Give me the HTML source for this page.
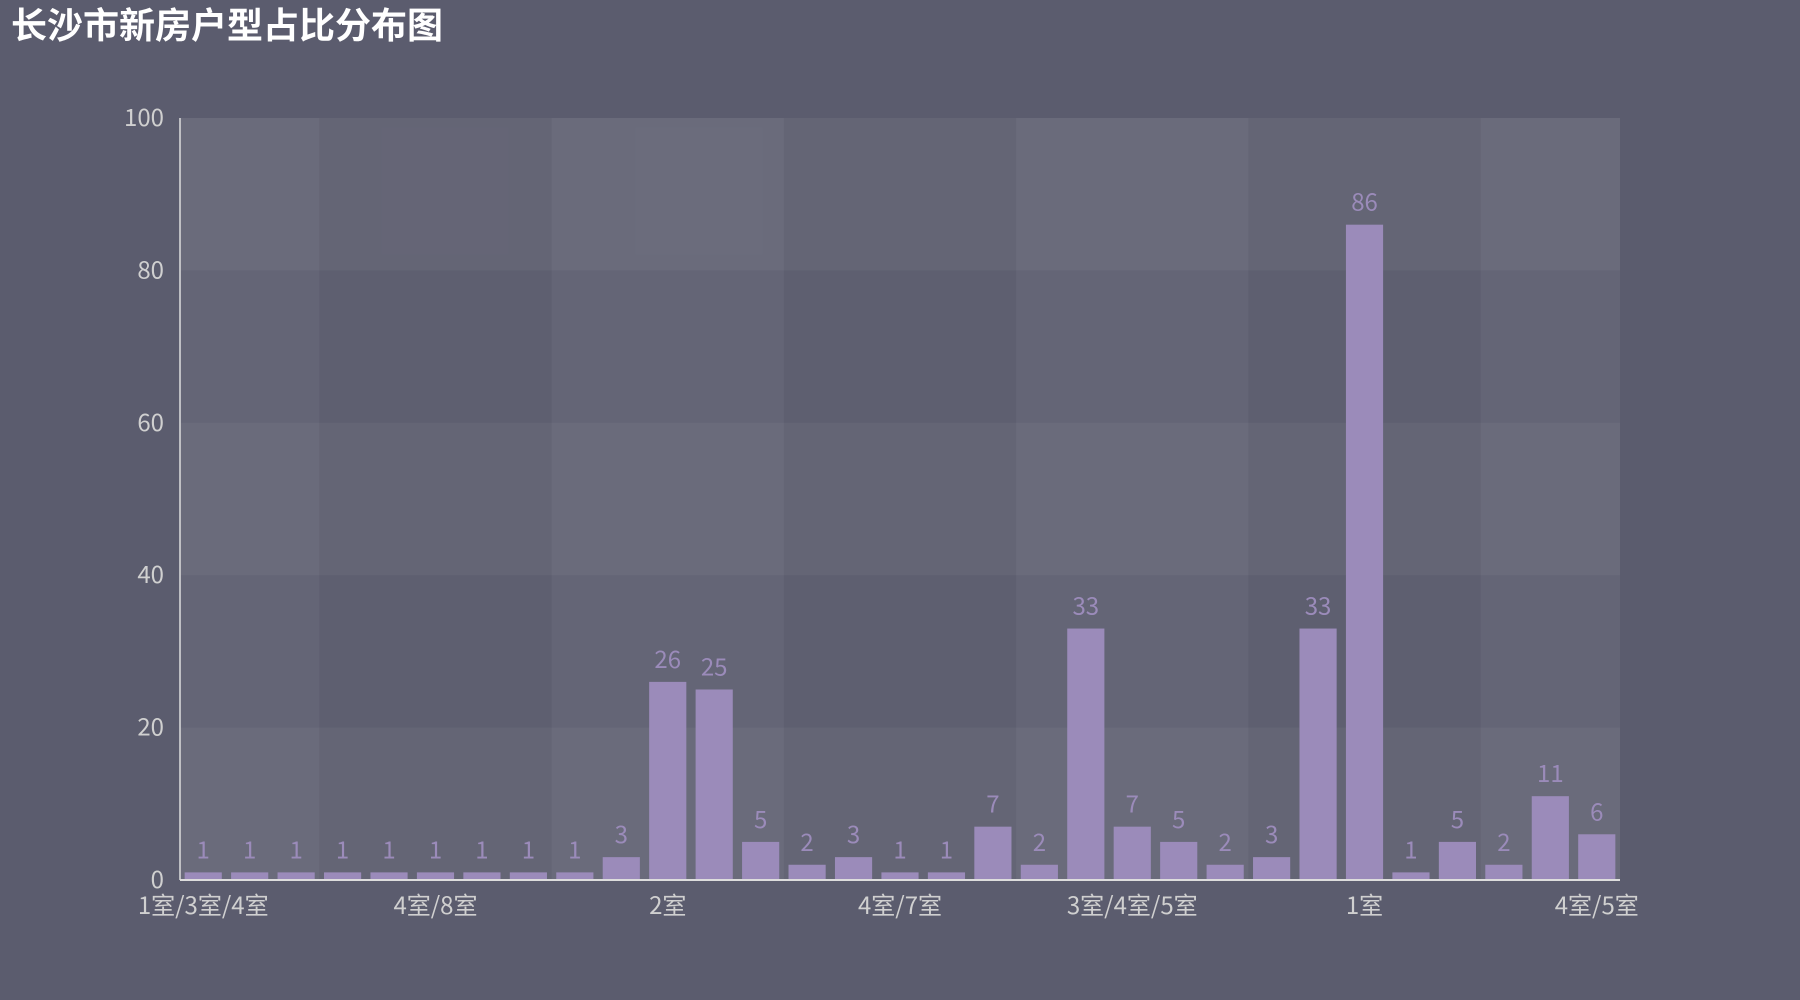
<!DOCTYPE html>
<html><head><meta charset="utf-8"><style>
html,body{margin:0;padding:0;background:#5b5c6e;width:1800px;height:1000px;overflow:hidden}
svg{display:block}
text{font-family:"Noto Sans CJK SC","Liberation Sans",sans-serif}
</style></head><body>
<svg id="chart" width="1800" height="1000">
<text x="11" y="38" font-size="36" font-weight="bold" fill="#ffffff">长沙市新房户型占比分布图</text>
</svg>
<script>
const categories=["1室/3室/4室","1室/2室/3室","1室/4室","2室/3室/5室","2室/5室","4室/8室","3室/6室","2室/4室/5室","5室/6室","2室/3室/4室/5室","2室","3室","4室","5室","6室","4室/7室","3室/7室","2室/3室","1室/2室","3室/4室","3室/4室/5室","4室","3室/5室","2室/4室","1室/2室/3室/4室","1室","4室/6室","1室/3室","2室/6室","3室/4室/6室","4室/5室"];
const values=[1,1,1,1,1,1,1,1,1,3,26,25,5,2,3,1,1,7,2,33,7,5,2,3,33,86,1,5,2,11,6];
const yTicks=[0,20,40,60,80,100];
const NS="http://www.w3.org/2000/svg";
const svg=document.getElementById('chart');
const L=180,R=1620,T=118,B=880,YMAX=100;
const n=categories.length, cw=(R-L)/n;
const y=v=>B-v/YMAX*(B-T);
const xc=i=>L+(i+0.5)*cw;
function mk(tag,attrs){const e=document.createElementNS(NS,tag);for(const k in attrs)e.setAttribute(k,attrs[k]);svg.appendChild(e);return e;}
const bounds=[0,3,8,13,18,23,28,n];
for(let b=0;b<bounds.length-1;b++){
 const r=mk('rect',{x:L+bounds[b]*cw,y:T,width:(bounds[b+1]-bounds[b])*cw,height:B-T,fill:b%2===0?'rgba(255,255,255,0.06)':'rgba(255,255,255,0.02)'});
 
 
}
for(let k=0;k<yTicks.length-1;k++){
 const r=mk('rect',{x:L,y:y(yTicks[k+1]),width:R-L,height:y(yTicks[k])-y(yTicks[k+1]),fill:k%2===0?'rgba(255,255,255,0.04)':'rgba(255,255,255,0.0)'});
 
 
}
yTicks.forEach(t=>{
 const e=mk('text',{x:164,y:y(t)+8,'font-size':24,fill:'#d0d0d0','text-anchor':'end'});
 e.textContent=t;
 
 
});
values.forEach((v,i)=>{
 const bw=cw*0.8;
 const r=mk('rect',{x:xc(i)-bw/2,y:y(v),width:bw,height:B-y(v),fill:'#9b8bba'});
 
 
 const t=mk('text',{x:xc(i),y:y(v)-14,'font-size':24,fill:'#9b8bba','text-anchor':'middle'});
 t.textContent=v;
 
 
});
const ya=mk('line',{x1:L,y1:T,x2:L,y2:B,stroke:'#dddddd','stroke-width':1.5});


const xa=mk('line',{x1:L,y1:B,x2:R,y2:B,stroke:'#dddddd','stroke-width':2});


categories.forEach((c,i)=>{
 if(i%5!==0)return;
 const t=mk('text',{x:xc(i),y:914,'font-size':24,fill:'#d0d0d0','text-anchor':'middle'});
 t.textContent=c;
 
 
});
</script>
</body></html>
